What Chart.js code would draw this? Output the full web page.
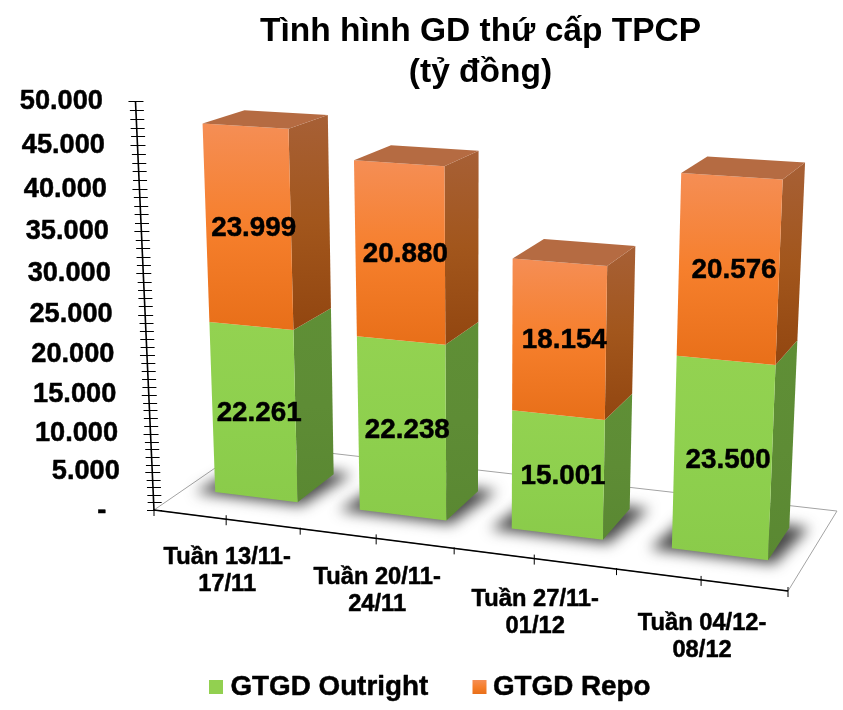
<!DOCTYPE html>
<html lang="vi">
<head>
<meta charset="utf-8">
<title>Tình hình GD thứ cấp TPCP</title>
<style>html,body{margin:0;padding:0;background:#fff}canvas{display:block}</style>
<script src="https://cdn.jsdelivr.net/npm/chart.js@4"></script>
</head>
<body>
<canvas id="c" width="843" height="710"></canvas>
<script>
// ---- data ----
const categories = [['Tuần 13/11-','17/11'],['Tuần 20/11-','24/11'],['Tuần 27/11-','01/12'],['Tuần 04/12-','08/12']];
const outright = [22261, 22238, 15001, 23500];
const repo = [23999, 20880, 18154, 20576];
const seriesNames = ['GTGD Outright', 'GTGD Repo'];
const titleLines = ['Tình hình GD thứ cấp TPCP', '(tỷ đồng)'];
const valueLabels = {'0':'-  ','5000':'5.000','10000':'10.000','15000':'15.000','20000':'20.000','25000':'25.000','30000':'30.000','35000':'35.000','40000':'40.000','45000':'45.000','50000':'50.000'};
const fmt = v => String(v).replace(/(\d)(\d{3})$/, '$1.$2');

// ---- 3D projection of the flat scale space (u across, v depth, z height) ----
const P = {a:554.5,b:118.1,c:154,d:21.4,e:-26.7,f:510,g:-0.1009,h:0.0885,r:-0.0847,q:-417.6,qv:6.3,p0:-30,p1:-22};
const DEPTH = [0.31, 0.72];
const FONT = '"Liberation Sans", Arial, sans-serif';
function project(u, v, z) {
  const w = 1 + P.g*u + P.h*v + P.r*z;
  const q = P.q + P.qv*Math.max(0, v - DEPTH[0]);
  return [(P.a*u + P.b*v + P.c + (P.p0 + P.p1*u)*z)/w, (P.d*u + P.e*v + P.f + q*z)/w];
}
function poly(ctx, pts) {
  ctx.beginPath();
  pts.forEach((p,i)=> i ? ctx.lineTo(p[0],p[1]) : ctx.moveTo(p[0],p[1]));
  ctx.closePath();
}
function grad(ctx, y0, y1, stops) {
  const g = ctx.createLinearGradient(0,y0,0,y1);
  stops.forEach((s,i)=> g.addColorStop(i/(stops.length-1), s));
  return g;
}
function boldText(ctx, s, x, y) {
  ctx.fillText(s, x, y);
  ctx.strokeText(s, x, y);
}
const STYLES = [
  {front:['#93D251','#8ED04E','#8ACB4A'], side:['#5F8F36','#5E8C35','#5A8832'], top:'#6E9E45'},
  {front:['#F58E55','#F67F2C','#E86F19'], side:['#A76036','#A2561C','#924610'], top:'#B56B42'}
];

const scene3d = {
  id: 'scene3d',
  beforeDatasetsDraw(chart) {
    const ctx = chart.ctx, xs = chart.scales.x, ys = chart.scales.y;
    const U = px => (px - xs.left)/(xs.right - xs.left);
    const Z = py => (ys.bottom - py)/(ys.bottom - ys.top);
    ctx.save();
    // floor
    ctx.strokeStyle = '#A3A3A3'; ctx.lineWidth = 1;
    poly(ctx, [project(0,0,0), project(1,0,0), project(1,1,0), project(0,1,0)]); ctx.stroke();

    const m0 = chart.getDatasetMeta(0).data, m1 = chart.getDatasetMeta(1).data;
    // floor shadows
    m0.forEach(bar => {
      const u0 = U(bar.x - bar.width/2), u1 = U(bar.x + bar.width/2);
      ctx.save();
      ctx.filter = 'blur(7px)';
      ctx.fillStyle = 'rgba(40,40,40,0.85)';
      poly(ctx, [project(u0-0.03,DEPTH[0]-0.035,0), project(u1+0.012,DEPTH[0]-0.035,0), project(u1+0.028,DEPTH[1]+0.03,0), project(u0-0.012,DEPTH[1]+0.03,0)]);
      ctx.fill();
      ctx.restore();
    });

    // bars
    [m0, m1].forEach((meta, ds) => {
      const st = STYLES[ds];
      meta.forEach((bar, i) => {
        const u0 = U(bar.x - bar.width/2), u1 = U(bar.x + bar.width/2);
        const zb = Z(bar.base), zt = Z(bar.y);
        const fl = project(u0,DEPTH[0],zb), fr = project(u1,DEPTH[0],zb);
        const tl = project(u0,DEPTH[0],zt), tr = project(u1,DEPTH[0],zt);
        const bbr = project(u1,DEPTH[1],zb), tbr = project(u1,DEPTH[1],zt), tbl = project(u0,DEPTH[1],zt);
        ctx.fillStyle = grad(ctx, tbr[1], fr[1], st.side);
        poly(ctx,[fr,bbr,tbr,tr]); ctx.fill();
        ctx.fillStyle = grad(ctx, tl[1], fr[1], st.front);
        poly(ctx,[fl,fr,tr,tl]); ctx.fill();
        if (ds === 1) {
          ctx.fillStyle = st.top;
          poly(ctx,[tl,tr,tbr,tbl]); ctx.fill();
        }
      });
    });

    // axes
    ctx.strokeStyle = '#000'; ctx.lineWidth = 1.6;
    let a = project(0,0,0), b = project(1,0,0);
    ctx.beginPath(); ctx.moveTo(a[0],a[1]); ctx.lineTo(b[0],b[1]); ctx.stroke();
    b = project(0,0,1);
    ctx.beginPath(); ctx.moveTo(a[0],a[1]); ctx.lineTo(b[0],b[1]); ctx.stroke();
    ctx.lineWidth = 1;
    // y ticks (major from the scale, minor in between)
    for (let v = ys.min; v <= ys.max; v += 1000) {
      const p = project(0,0,Z(ys.getPixelForValue(v)));
      const major = v % 5000 === 0;
      const py = Math.round(p[1]) + 0.5;
      ctx.beginPath(); ctx.moveTo(p[0]-(major?7:6),py); ctx.lineTo(p[0]+8,py); ctx.stroke();
    }
    // x ticks
    const n = chart.data.labels.length*2;
    for (let k = 0; k <= n; k++) {
      const p = project(k/n,0,0);
      const odd = k%2===1 || k===n;
      ctx.beginPath(); ctx.moveTo(p[0],p[1]-(odd?4:1)); ctx.lineTo(p[0],p[1]+6); ctx.stroke();
    }

    // y tick labels
    ctx.fillStyle = '#000'; ctx.strokeStyle = '#000'; ctx.lineWidth = 0.5; ctx.lineJoin = 'round';
    ctx.textBaseline = 'middle'; ctx.textAlign = 'right';
    ctx.font = 'bold 27.2px ' + FONT;
    ys.ticks.forEach(t => {
      const z = Z(ys.getPixelForValue(t.value));
      const p = project(0,0,z);
      boldText(ctx, t.label, p[0]-32.5, p[1]+2-(z>0?3:0)*(1-z*0.6));
    });
    // category labels
    ctx.textAlign = 'center';
    ctx.font = 'bold 23.7px ' + FONT;
    chart.data.labels.forEach((lab,i) => {
      const u = U(xs.getPixelForValue(i));
      const p = project(u,0,0);
      const y = p[1] + 38.5 + 6*u*u;
      lab.forEach((s,j)=> boldText(ctx, s, p[0]+1, y + j*27));
    });
    // value labels
    ctx.font = 'bold 27.8px ' + FONT;
    [m0, m1].forEach((meta, ds) => {
      meta.forEach((bar, i) => {
        const z = (Z(bar.base)+Z(bar.y))/2;
        const p = project(U(bar.x),DEPTH[0],z);
        boldText(ctx, fmt(chart.data.datasets[ds].data[i]), p[0]+5.5, p[1]+0.5);
      });
    });
    // legend
    ctx.textAlign = 'left';
    ctx.font = 'bold 27.8px ' + FONT;
    const legendBox = [209, 472.5], legendText = [230.5, 493];
    chart.data.datasets.forEach((d,i) => {
      ctx.fillStyle = i ? grad(ctx,680,694,STYLES[1].front) : d.backgroundColor;
      ctx.fillRect(legendBox[i],680,14,14);
      ctx.fillStyle = '#000';
      boldText(ctx, d.label, legendText[i], 687);
    });
    ctx.restore();
    return false; // flat bars replaced by the projected ones
  }
};

new Chart(document.getElementById('c'), {
  type: 'bar',
  plugins: [scene3d],
  data: {
    labels: categories,
    datasets: [
      {label: seriesNames[0], data: outright, backgroundColor: '#92D050', barPercentage: 0.576, categoryPercentage: 1},
      {label: seriesNames[1], data: repo, backgroundColor: '#F67F2C', barPercentage: 0.576, categoryPercentage: 1}
    ]
  },
  options: {
    responsive: false,
    animation: false,
    layout: {padding: {left: 118, right: 0, top: 0, bottom: 60}},
    scales: {
      x: {stacked: true, display: false},
      y: {stacked: true, display: false, min: 0, max: 50000,
          ticks: {stepSize: 5000, callback: v => valueLabels[v]}}
    },
    plugins: {
      legend: {display: false},
      tooltip: {enabled: false},
      title: {display: true, text: titleLines, color: '#000',
              font: {family: FONT, size: 33.5, weight: 'bold', lineHeight: 1.2},
              padding: {top: 12, bottom: 10}}
    }
  }
});
</script>
</body>
</html>
